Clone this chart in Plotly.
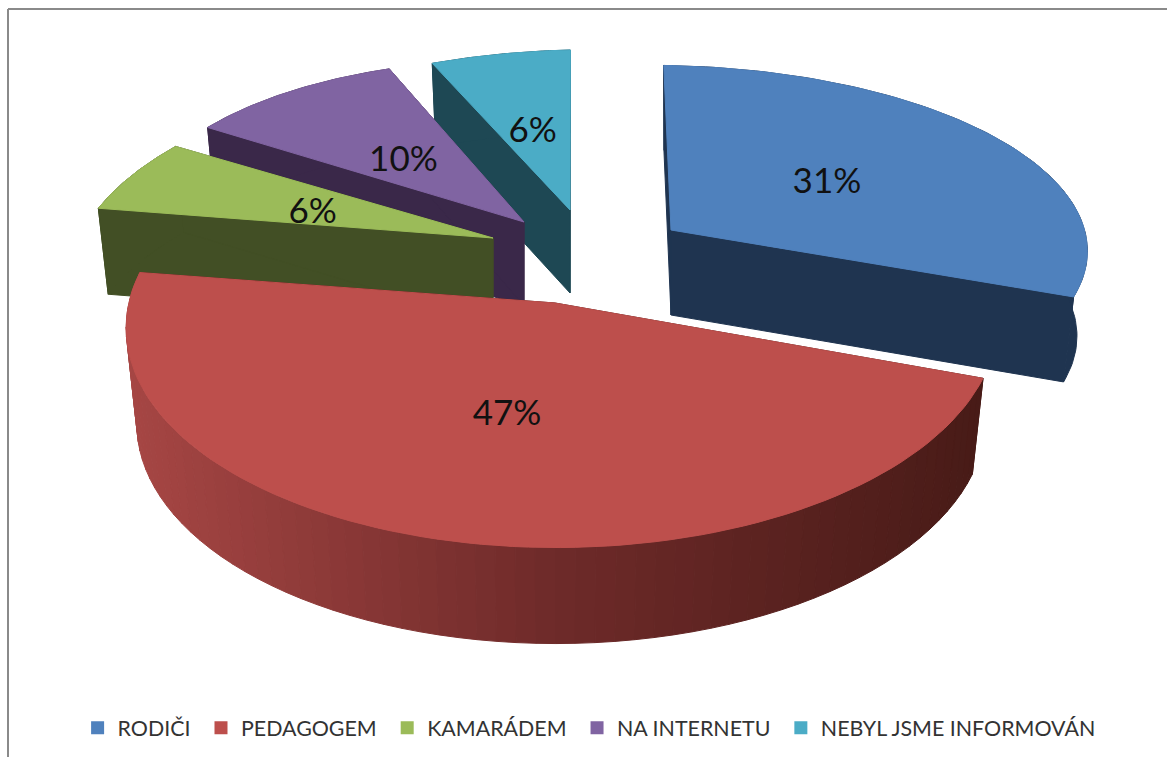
import math
import plotly.graph_objects as go

# --- data -------------------------------------------------------------
categories = ["RODIČI", "PEDAGOGEM", "KAMARÁDEM", "NA INTERNETU", "NEBYL JSME INFORMOVÁN"]
values = [31, 47, 6, 10, 6]
labels = ["31%", "47%", "6%", "10%", "6%"]

# --- styles -----------------------------------------------------------
top_colors = ["#4F81BD", "#BD4F4C", "#9BBB59", "#8064A2", "#4BACC6"]
side_colors = ["#1F3450", "#4A1B17", "#424F25", "#3A2849", "#1E4854"]
red_side_stops = [(0.0, (166, 70, 68)), (0.5, (110, 42, 41)), (1.0, (72, 27, 23))]

# --- exploded-pie layout (apex of each slice, scale, perspective, depth) ----
apex_x = [671, 555, 493, 524, 570]
apex_y = [230, 303, 238, 222, 210]
scale_x = [428, 433, 415, 393, 410]
scale_y = [181, 220, 188, 178, 176]
persp = [0.10, 0.10, 0.10, 0.10, 0.10]
persp_side = [0.035, -0.012, 0, 0, 0]
tilt = [0, 10, 5, -5, 9]
shear = [0, -15, 23, -7, 0]
depth = [85, 96, 86, 84, 83]
label_r = [0.47, 0.489, 0.476, 0.47, 0.47]
label_turn = [0, -3.3, 0, 0, 0]
label_dx = [-2, -5, -5, -6, -3]
label_dy = [0, 2, 6, 4, 0]
draw_order = [4, 3, 2, 0, 1]
VANISH_X = 575
SHRINK = 0.975

# angles, clockwise from 12 o'clock, come from the values
total = sum(values)
edges = [0.0]
for v in values:
    edges.append(edges[-1] + 360.0 * v / total)


def project(i, theta, r=1.0, low=False):
    X = r * math.sin(math.radians(theta))
    Y = r * math.cos(math.radians(theta))
    w = 1 + persp[i] * Y + persp_side[i] * X
    skew = shear[i] - (apex_x[i] - VANISH_X) * 0.083
    dx = (scale_x[i] * X + skew * Y) / w
    dy = -(scale_y[i] * Y + tilt[i] * X) / w
    if low:
        return apex_x[i] + dx * SHRINK, apex_y[i] + dy + depth[i]
    return apex_x[i] + dx, apex_y[i] + dy


def arc(i, a0, a1, low=False, n=90):
    pts = [project(i, a0 + (a1 - a0) * t / n, low=low) for t in range(n + 1)]
    return [p[0] for p in pts], [p[1] for p in pts]


def poly(fig, xs, ys, color, name):
    fig.add_trace(go.Scatter(
        x=list(xs) + [xs[0]], y=list(ys) + [ys[0]], mode="lines", fill="toself",
        fillcolor=color, line=dict(color=color, width=1), hoverinfo="skip",
        showlegend=False, name=name))


def stop_color(t):
    for (t0, c0), (t1, c1) in zip(red_side_stops, red_side_stops[1:]):
        if t <= t1:
            f = (t - t0) / (t1 - t0)
            c = [round(a + (b - a) * f) for a, b in zip(c0, c1)]
            return "rgb(%d,%d,%d)" % tuple(c)
    return "rgb(%d,%d,%d)" % red_side_stops[-1][1]


fig = go.Figure()

for i in draw_order:
    a0, a1 = edges[i], edges[i + 1]
    name = categories[i]
    ax, ay = apex_x[i], apex_y[i]
    # cut walls
    for a in (a0, a1):
        x_t, y_t = project(i, a)
        x_b, y_b = project(i, a, low=True)
        poly(fig, [ax, x_t, x_b, ax], [ay, y_t, y_b, ay + depth[i]], side_colors[i], name)
    # outer rim
    if i == 1:
        n = 70
        for s in range(n):
            b0 = a1 + (a0 - a1) * s / n
            b1 = a1 + (a0 - a1) * (s + 1) / n
            xt, yt = arc(i, b0, b1, n=3)
            xb, yb = arc(i, b0, b1, low=True, n=3)
            xm = 0.5 * (xt[0] + xt[-1])
            t = min(1, max(0, (xm - 128) / (985 - 128)))
            poly(fig, xt + xb[::-1], yt + yb[::-1], stop_color(t), name)
    else:
        xt, yt = arc(i, a0, a1)
        xb, yb = arc(i, a0, a1, low=True)
        poly(fig, xt + xb[::-1], yt + yb[::-1], side_colors[i], name)
    # top face
    xt, yt = arc(i, a0, a1)
    poly(fig, [ax] + xt, [ay] + yt, top_colors[i], name)

# value labels
lab_x, lab_y = [], []
for i in range(len(values)):
    mid = 0.5 * (edges[i] + edges[i + 1]) + label_turn[i]
    p = project(i, mid, r=label_r[i])
    lab_x.append(p[0] + label_dx[i])
    lab_y.append(p[1] + label_dy[i])
fig.add_trace(go.Scatter(
    x=lab_x, y=lab_y, mode="text", text=labels, textposition="middle center",
    textfont=dict(family="Lato", size=35, color="#111111"),
    hoverinfo="skip", showlegend=False))

# legend entries (a no-break space widens the gap between entries)
for k, (name, color) in enumerate(zip(categories, top_colors)):
    pad = "" if k == len(categories) - 1 else "\u00a0"
    fig.add_trace(go.Scatter(
        x=[None], y=[None], mode="markers", name=name + pad,
        marker=dict(symbol="square", size=13, color=color)))

fig.update_layout(
    width=1167, height=757, autosize=False,
    margin=dict(l=0, r=0, t=0, b=0),
    paper_bgcolor="white", plot_bgcolor="white",
    xaxis=dict(range=[0, 1167], visible=False, fixedrange=True),
    yaxis=dict(range=[757, 0], visible=False, fixedrange=True),
    legend=dict(orientation="h", x=0.5048, xanchor="center", y=0.0385, yanchor="middle",
                font=dict(family="Lato", size=21.4, color="#333333"),
                bgcolor="rgba(0,0,0,0)", itemwidth=30),
    shapes=[
        dict(type="line", xref="x", yref="y", x0=8, x1=8, y0=9, y1=757,
             line=dict(color="#8A8A8A", width=2)),
        dict(type="line", xref="x", yref="y", x0=8, x1=1167, y0=9, y1=9,
             line=dict(color="#8A8A8A", width=2)),
    ],
)

fig.write_html("out.html", config={"displayModeBar": False},
               post_script="document.body.style.margin='0';")
